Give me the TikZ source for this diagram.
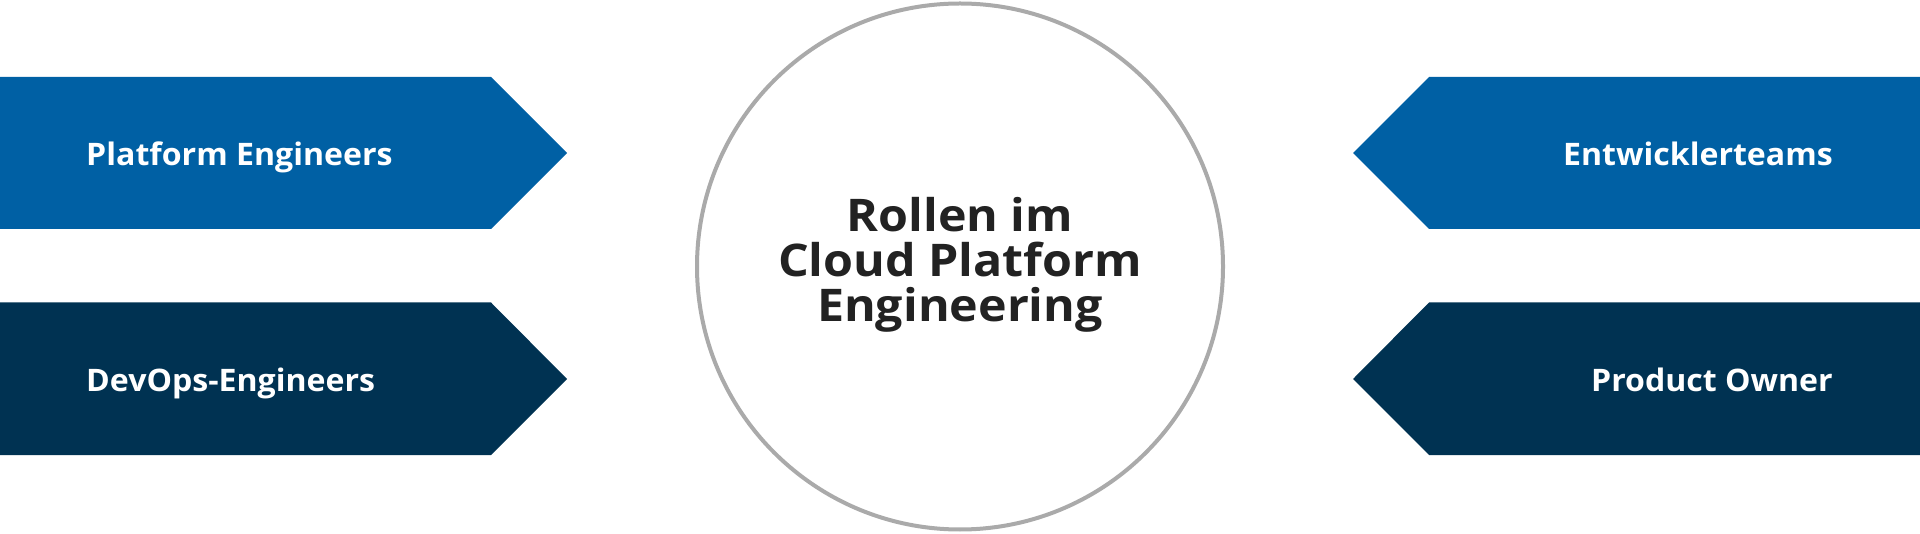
\documentclass[tikz,border=0pt]{standalone}
\usepackage{fontspec}
\setmainfont{Open Sans}
\newfontfamily\rolefont[FakeStretch=1.035]{Open Sans}
\newfontfamily\titlefont[FakeStretch=1.075]{Open Sans}
\definecolor{roleblue}{RGB}{0,96,164}
\definecolor{rolenavy}{RGB}{0,50,82}
\definecolor{ringgray}{RGB}{170,170,170}
\definecolor{titleink}{RGB}{34,34,34}
\tikzset{
  rolelabel/.style={text=white,font=\rolefont\fontsize{31}{34}\selectfont\bfseries,inner sep=0pt},
  titlelabel/.style={text=titleink,font=\titlefont\fontsize{45}{45}\selectfont\bfseries,align=center,inner sep=0pt},
}
\begin{document}
\begin{tikzpicture}[x=1pt,y=-1pt]
\useasboundingbox (0,0) rectangle (1920,534);
% left arrows
\fill[roleblue] (0,77) -- (491,77) -- (567,153) -- (491,229) -- (0,229) -- cycle;
\fill[rolenavy] (0,302.5) -- (491,302.5) -- (567,379) -- (491,455) -- (0,455) -- cycle;
% right arrows
\fill[roleblue] (1920,77) -- (1429,77) -- (1353,153) -- (1429,229) -- (1920,229) -- cycle;
\fill[rolenavy] (1920,302.5) -- (1429,302.5) -- (1353,379) -- (1429,455) -- (1920,455) -- cycle;
% circle
\node[circle,draw=ringgray,line width=4pt,fill=white,minimum size=526pt,inner sep=0pt] (ring) at (960,266.5) {};
% labels
\node[rolelabel,anchor=base west] (pe) at (86,166) {Platform Engineers};
\node[rolelabel,anchor=base west] (do) at (86,392) {DevOps-Engineers};
\node[rolelabel,anchor=base east] (et) at (1833,166) {Entwicklerteams};
\node[rolelabel,anchor=base east] (po) at (1833,392) {Product Owner};
\node[titlelabel,anchor=base] (title) at (960,321.5) {Rollen im\\Cloud Platform\\Engineering};
\end{tikzpicture}
\end{document}
